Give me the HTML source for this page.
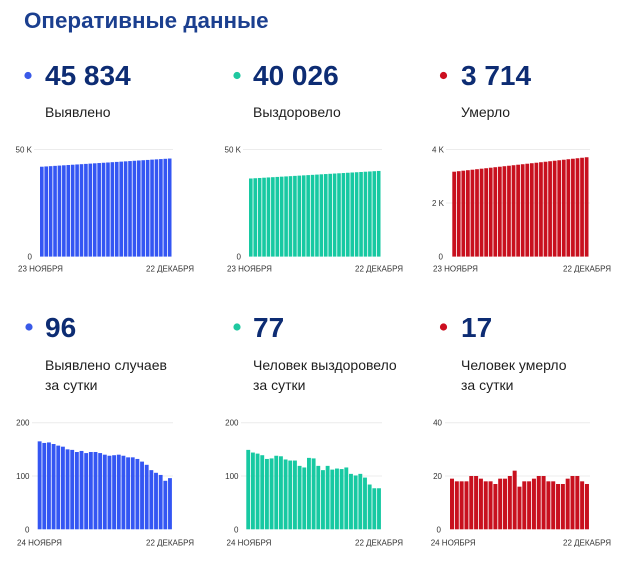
<!DOCTYPE html>
<html>
<head>
<meta charset="utf-8">
<style>
html,body{margin:0;padding:0;background:#fff;}
svg{display:block;}
text{font-family:"Liberation Sans","Noto Sans CJK SC",sans-serif;}
.t{font-size:22.4px;font-weight:bold;fill:#1b3f8f;}
.n{font-size:28px;font-weight:bold;fill:#0d2c73;}
.l{font-size:14px;fill:#1e1e1e;}
.a{font-size:8px;fill:#333;}
.g{stroke:#ececec;stroke-width:1;}
</style>
</head>
<body>
<svg width="640" height="571" viewBox="0 0 640 571" xmlns="http://www.w3.org/2000/svg">
<text class="t" x="24" y="28">Оперативные данные</text>

<!-- top stats -->
<circle cx="28" cy="75.5" r="3.6" fill="#3a5ae8"/>
<text class="n" x="45" y="85">45 834</text>
<text class="l" x="45" y="117">Выявлено</text>

<circle cx="237" cy="75.5" r="3.6" fill="#1fc8a0"/>
<text class="n" x="253" y="85">40 026</text>
<text class="l" x="253" y="117">Выздоровело</text>

<circle cx="443.5" cy="75.5" r="3.6" fill="#cc0e1f"/>
<text class="n" x="461" y="85">3 714</text>
<text class="l" x="461" y="117">Умерло</text>

<!-- bottom stats -->
<circle cx="29" cy="327" r="3.6" fill="#3a5ae8"/>
<text class="n" x="45" y="337">96</text>
<text class="l" x="45" y="370">Выявлено случаев</text>
<text class="l" x="45" y="390">за сутки</text>

<circle cx="237" cy="327" r="3.6" fill="#1fc8a0"/>
<text class="n" x="253" y="337">77</text>
<text class="l" x="253" y="370">Человек выздоровело</text>
<text class="l" x="253" y="390">за сутки</text>

<circle cx="443.5" cy="327" r="3.6" fill="#cc0e1f"/>
<text class="n" x="461" y="337">17</text>
<text class="l" x="461" y="370">Человек умерло</text>
<text class="l" x="461" y="390">за сутки</text>

<!-- ===== Chart 1 ===== -->
<line class="g" x1="34" y1="149.5" x2="173" y2="149.5"/>
<text class="a" x="32" y="152.5" text-anchor="end">50 K</text>
<text class="a" x="32" y="259.5" text-anchor="end">0</text>
<text class="a" x="18" y="271.5">23 НОЯБРЯ</text>
<text class="a" x="146" y="271.5">22 ДЕКАБРЯ</text>
<g transform="translate(40,256.6) scale(4.41,-2.14)" fill="#3456f3">
<rect x="0" y="0" width="0.82" height="42.00"/><rect x="1" y="0" width="0.82" height="42.13"/><rect x="2" y="0" width="0.82" height="42.26"/><rect x="3" y="0" width="0.82" height="42.40"/><rect x="4" y="0" width="0.82" height="42.53"/><rect x="5" y="0" width="0.82" height="42.66"/><rect x="6" y="0" width="0.82" height="42.79"/><rect x="7" y="0" width="0.82" height="42.93"/><rect x="8" y="0" width="0.82" height="43.06"/><rect x="9" y="0" width="0.82" height="43.19"/><rect x="10" y="0" width="0.82" height="43.32"/><rect x="11" y="0" width="0.82" height="43.45"/><rect x="12" y="0" width="0.82" height="43.59"/><rect x="13" y="0" width="0.82" height="43.72"/><rect x="14" y="0" width="0.82" height="43.85"/><rect x="15" y="0" width="0.82" height="43.98"/><rect x="16" y="0" width="0.82" height="44.12"/><rect x="17" y="0" width="0.82" height="44.25"/><rect x="18" y="0" width="0.82" height="44.38"/><rect x="19" y="0" width="0.82" height="44.51"/><rect x="20" y="0" width="0.82" height="44.64"/><rect x="21" y="0" width="0.82" height="44.78"/><rect x="22" y="0" width="0.82" height="44.91"/><rect x="23" y="0" width="0.82" height="45.04"/><rect x="24" y="0" width="0.82" height="45.17"/><rect x="25" y="0" width="0.82" height="45.31"/><rect x="26" y="0" width="0.82" height="45.44"/><rect x="27" y="0" width="0.82" height="45.57"/><rect x="28" y="0" width="0.82" height="45.70"/><rect x="29" y="0" width="0.82" height="45.83"/>
</g>

<!-- ===== Chart 2 ===== -->
<line class="g" x1="243" y1="149.5" x2="382" y2="149.5"/>
<text class="a" x="241" y="152.5" text-anchor="end">50 K</text>
<text class="a" x="241" y="259.5" text-anchor="end">0</text>
<text class="a" x="227" y="271.5">23 НОЯБРЯ</text>
<text class="a" x="355" y="271.5">22 ДЕКАБРЯ</text>
<g transform="translate(249,256.6) scale(4.41,-2.14)" fill="#17c9a2">
<rect x="0" y="0" width="0.82" height="36.50"/><rect x="1" y="0" width="0.82" height="36.62"/><rect x="2" y="0" width="0.82" height="36.74"/><rect x="3" y="0" width="0.82" height="36.86"/><rect x="4" y="0" width="0.82" height="36.99"/><rect x="5" y="0" width="0.82" height="37.11"/><rect x="6" y="0" width="0.82" height="37.23"/><rect x="7" y="0" width="0.82" height="37.35"/><rect x="8" y="0" width="0.82" height="37.47"/><rect x="9" y="0" width="0.82" height="37.59"/><rect x="10" y="0" width="0.82" height="37.72"/><rect x="11" y="0" width="0.82" height="37.84"/><rect x="12" y="0" width="0.82" height="37.96"/><rect x="13" y="0" width="0.82" height="38.08"/><rect x="14" y="0" width="0.82" height="38.20"/><rect x="15" y="0" width="0.82" height="38.32"/><rect x="16" y="0" width="0.82" height="38.45"/><rect x="17" y="0" width="0.82" height="38.57"/><rect x="18" y="0" width="0.82" height="38.69"/><rect x="19" y="0" width="0.82" height="38.81"/><rect x="20" y="0" width="0.82" height="38.93"/><rect x="21" y="0" width="0.82" height="39.05"/><rect x="22" y="0" width="0.82" height="39.18"/><rect x="23" y="0" width="0.82" height="39.30"/><rect x="24" y="0" width="0.82" height="39.42"/><rect x="25" y="0" width="0.82" height="39.54"/><rect x="26" y="0" width="0.82" height="39.66"/><rect x="27" y="0" width="0.82" height="39.78"/><rect x="28" y="0" width="0.82" height="39.91"/><rect x="29" y="0" width="0.82" height="40.03"/>
</g>

<!-- ===== Chart 3 ===== -->
<line class="g" x1="446" y1="149.5" x2="590" y2="149.5"/>
<line class="g" x1="446" y1="203" x2="590" y2="203"/>
<text class="a" x="444" y="152.5" text-anchor="end">4 K</text>
<text class="a" x="444" y="206" text-anchor="end">2 K</text>
<text class="a" x="443" y="259.5" text-anchor="end">0</text>
<text class="a" x="433" y="271.5">23 НОЯБРЯ</text>
<text class="a" x="563" y="271.5">22 ДЕКАБРЯ</text>
<g transform="translate(452.3,256.6) scale(4.567,-26.75)" fill="#c8101e">
<rect x="0" y="0" width="0.82" height="3.174"/><rect x="1" y="0" width="0.82" height="3.193"/><rect x="2" y="0" width="0.82" height="3.211"/><rect x="3" y="0" width="0.82" height="3.230"/><rect x="4" y="0" width="0.82" height="3.248"/><rect x="5" y="0" width="0.82" height="3.267"/><rect x="6" y="0" width="0.82" height="3.286"/><rect x="7" y="0" width="0.82" height="3.304"/><rect x="8" y="0" width="0.82" height="3.323"/><rect x="9" y="0" width="0.82" height="3.342"/><rect x="10" y="0" width="0.82" height="3.360"/><rect x="11" y="0" width="0.82" height="3.379"/><rect x="12" y="0" width="0.82" height="3.397"/><rect x="13" y="0" width="0.82" height="3.416"/><rect x="14" y="0" width="0.82" height="3.435"/><rect x="15" y="0" width="0.82" height="3.453"/><rect x="16" y="0" width="0.82" height="3.472"/><rect x="17" y="0" width="0.82" height="3.491"/><rect x="18" y="0" width="0.82" height="3.509"/><rect x="19" y="0" width="0.82" height="3.528"/><rect x="20" y="0" width="0.82" height="3.546"/><rect x="21" y="0" width="0.82" height="3.565"/><rect x="22" y="0" width="0.82" height="3.584"/><rect x="23" y="0" width="0.82" height="3.602"/><rect x="24" y="0" width="0.82" height="3.621"/><rect x="25" y="0" width="0.82" height="3.640"/><rect x="26" y="0" width="0.82" height="3.658"/><rect x="27" y="0" width="0.82" height="3.677"/><rect x="28" y="0" width="0.82" height="3.695"/><rect x="29" y="0" width="0.82" height="3.714"/>
</g>

<!-- ===== Chart 4 ===== -->
<line class="g" x1="32" y1="422.7" x2="173" y2="422.7"/>
<line class="g" x1="32" y1="476" x2="173" y2="476"/>
<text class="a" x="29.5" y="425.7" text-anchor="end">200</text>
<text class="a" x="29.5" y="479" text-anchor="end">100</text>
<text class="a" x="29.5" y="532.3" text-anchor="end">0</text>
<text class="a" x="17" y="545.5">24 НОЯБРЯ</text>
<text class="a" x="146" y="545.5">22 ДЕКАБРЯ</text>
<g transform="translate(37.7,529.3) scale(4.655,-0.533)" fill="#3456f3">
<rect x="0" y="0" width="0.83" height="165"/><rect x="1" y="0" width="0.83" height="162"/><rect x="2" y="0" width="0.83" height="163"/><rect x="3" y="0" width="0.83" height="160"/><rect x="4" y="0" width="0.83" height="157"/><rect x="5" y="0" width="0.83" height="155"/><rect x="6" y="0" width="0.83" height="150"/><rect x="7" y="0" width="0.83" height="149"/><rect x="8" y="0" width="0.83" height="145"/><rect x="9" y="0" width="0.83" height="147"/><rect x="10" y="0" width="0.83" height="143"/><rect x="11" y="0" width="0.83" height="145"/><rect x="12" y="0" width="0.83" height="145"/><rect x="13" y="0" width="0.83" height="143"/><rect x="14" y="0" width="0.83" height="140"/><rect x="15" y="0" width="0.83" height="138"/><rect x="16" y="0" width="0.83" height="139"/><rect x="17" y="0" width="0.83" height="140"/><rect x="18" y="0" width="0.83" height="138"/><rect x="19" y="0" width="0.83" height="135"/><rect x="20" y="0" width="0.83" height="135"/><rect x="21" y="0" width="0.83" height="132"/><rect x="22" y="0" width="0.83" height="127"/><rect x="23" y="0" width="0.83" height="121"/><rect x="24" y="0" width="0.83" height="111"/><rect x="25" y="0" width="0.83" height="106"/><rect x="26" y="0" width="0.83" height="102"/><rect x="27" y="0" width="0.83" height="91"/><rect x="28" y="0" width="0.83" height="96"/>
</g>

<!-- ===== Chart 5 ===== -->
<line class="g" x1="241" y1="422.7" x2="382" y2="422.7"/>
<line class="g" x1="241" y1="476" x2="382" y2="476"/>
<text class="a" x="238.5" y="425.7" text-anchor="end">200</text>
<text class="a" x="238.5" y="479" text-anchor="end">100</text>
<text class="a" x="238.5" y="532.3" text-anchor="end">0</text>
<text class="a" x="226.5" y="545.5">24 НОЯБРЯ</text>
<text class="a" x="355" y="545.5">22 ДЕКАБРЯ</text>
<g transform="translate(246.3,529.3) scale(4.67,-0.533)" fill="#17c9a2">
<rect x="0" y="0" width="0.83" height="149"/><rect x="1" y="0" width="0.83" height="144"/><rect x="2" y="0" width="0.83" height="142"/><rect x="3" y="0" width="0.83" height="139"/><rect x="4" y="0" width="0.83" height="132"/><rect x="5" y="0" width="0.83" height="133"/><rect x="6" y="0" width="0.83" height="138"/><rect x="7" y="0" width="0.83" height="137"/><rect x="8" y="0" width="0.83" height="131"/><rect x="9" y="0" width="0.83" height="129"/><rect x="10" y="0" width="0.83" height="129"/><rect x="11" y="0" width="0.83" height="119"/><rect x="12" y="0" width="0.83" height="116"/><rect x="13" y="0" width="0.83" height="134"/><rect x="14" y="0" width="0.83" height="133"/><rect x="15" y="0" width="0.83" height="119"/><rect x="16" y="0" width="0.83" height="111"/><rect x="17" y="0" width="0.83" height="119"/><rect x="18" y="0" width="0.83" height="112"/><rect x="19" y="0" width="0.83" height="114"/><rect x="20" y="0" width="0.83" height="113"/><rect x="21" y="0" width="0.83" height="116"/><rect x="22" y="0" width="0.83" height="104"/><rect x="23" y="0" width="0.83" height="101"/><rect x="24" y="0" width="0.83" height="104"/><rect x="25" y="0" width="0.83" height="97"/><rect x="26" y="0" width="0.83" height="84"/><rect x="27" y="0" width="0.83" height="77"/><rect x="28" y="0" width="0.83" height="77"/>
</g>

<!-- ===== Chart 6 ===== -->
<line class="g" x1="445" y1="422.7" x2="590" y2="422.7"/>
<line class="g" x1="445" y1="476" x2="590" y2="476"/>
<text class="a" x="442" y="425.7" text-anchor="end">40</text>
<text class="a" x="442" y="479" text-anchor="end">20</text>
<text class="a" x="441" y="532.3" text-anchor="end">0</text>
<text class="a" x="430.7" y="545.5">24 НОЯБРЯ</text>
<text class="a" x="563" y="545.5">22 ДЕКАБРЯ</text>
<g transform="translate(450,529.3) scale(4.82,-2.665)" fill="#c8101e">
<rect x="0" y="0" width="0.83" height="19"/><rect x="1" y="0" width="0.83" height="18"/><rect x="2" y="0" width="0.83" height="18"/><rect x="3" y="0" width="0.83" height="18"/><rect x="4" y="0" width="0.83" height="20"/><rect x="5" y="0" width="0.83" height="20"/><rect x="6" y="0" width="0.83" height="19"/><rect x="7" y="0" width="0.83" height="18"/><rect x="8" y="0" width="0.83" height="18"/><rect x="9" y="0" width="0.83" height="17"/><rect x="10" y="0" width="0.83" height="19"/><rect x="11" y="0" width="0.83" height="19"/><rect x="12" y="0" width="0.83" height="20"/><rect x="13" y="0" width="0.83" height="22"/><rect x="14" y="0" width="0.83" height="16"/><rect x="15" y="0" width="0.83" height="18"/><rect x="16" y="0" width="0.83" height="18"/><rect x="17" y="0" width="0.83" height="19"/><rect x="18" y="0" width="0.83" height="20"/><rect x="19" y="0" width="0.83" height="20"/><rect x="20" y="0" width="0.83" height="18"/><rect x="21" y="0" width="0.83" height="18"/><rect x="22" y="0" width="0.83" height="17"/><rect x="23" y="0" width="0.83" height="17"/><rect x="24" y="0" width="0.83" height="19"/><rect x="25" y="0" width="0.83" height="20"/><rect x="26" y="0" width="0.83" height="20"/><rect x="27" y="0" width="0.83" height="18"/><rect x="28" y="0" width="0.83" height="17"/>
</g>
</svg>
</body>
</html>
